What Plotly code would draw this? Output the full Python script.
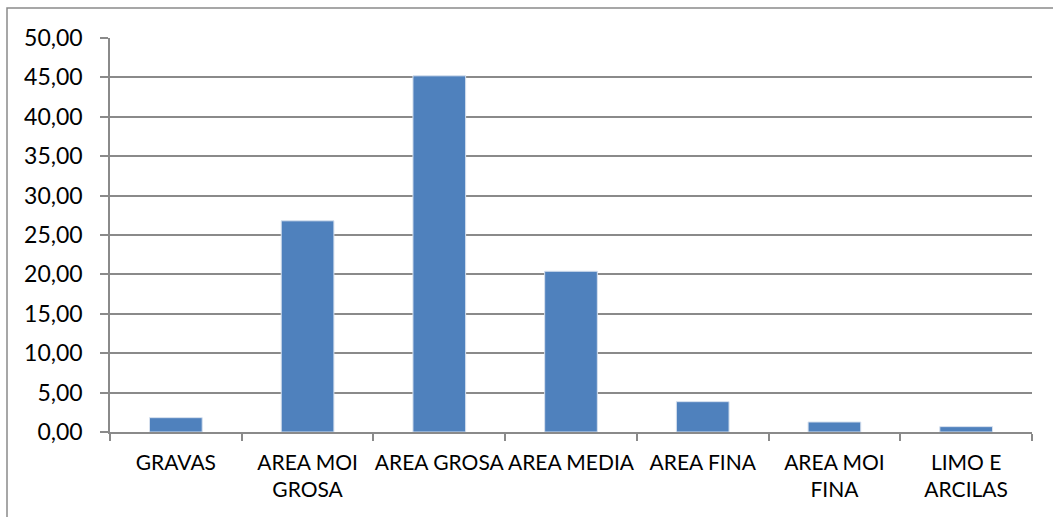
import plotly.graph_objects as go

# Particle-size fractions (% of sample)
categories = ["GRAVAS", "AREA MOI<br>GROSA", "AREA GROSA", "AREA MEDIA",
              "AREA FINA", "AREA MOI<br>FINA", "LIMO E<br>ARCILAS"]
percentages = [1.82, 26.80, 45.20, 20.40, 3.85, 1.27, 0.68]
y_ticks = [0, 5, 10, 15, 20, 25, 30, 35, 40, 45, 50]

W, H = 1053, 517
L, R, T, B = 110, 21, 38, 85
pw, ph = W - L - R, H - T - B

grid_grey = "#8a8a8a"
font_family = "Lato, 'Liberation Sans', sans-serif"

fig = go.Figure(
    go.Bar(
        x=categories,
        y=percentages,
        marker=dict(color="#4F81BD", line=dict(color="#D6E0EE", width=1)),
        width=0.4,
    )
)

fig.update_layout(
    width=W,
    height=H,
    margin=dict(l=L, r=R, t=T, b=B),
    paper_bgcolor="white",
    plot_bgcolor="white",
    separators=",.",
    showlegend=False,
    font=dict(family=font_family, size=20, color="#000000"),
    xaxis=dict(
        type="category",
        tickson="boundaries",
        ticks="outside",
        ticklen=7,
        tickwidth=1.5,
        tickcolor=grid_grey,
        showline=True,
        linecolor=grid_grey,
        linewidth=1.5,
        showgrid=False,
        tickfont=dict(family=font_family, size=21),
        ticklabelstandoff=11,
        tickangle=0,
    ),
    yaxis=dict(
        range=[0, 50],
        tickvals=y_ticks,
        tickformat=".2f",
        ticks="outside",
        ticklen=8,
        tickwidth=1.5,
        tickcolor=grid_grey,
        showline=True,
        linecolor=grid_grey,
        linewidth=1.5,
        showgrid=True,
        gridcolor=grid_grey,
        gridwidth=1.5,
        zeroline=False,
        tickfont=dict(family=font_family, size=23),
        ticklabelstandoff=13,
    ),
    shapes=[
        dict(
            type="rect",
            xref="paper",
            yref="paper",
            x0=(7 - L) / pw,
            x1=1 + (R + 20) / pw,
            y0=-(B + 20) / ph,
            y1=1 + (T - 8) / ph,
            line=dict(color=grid_grey, width=1.5),
            fillcolor="rgba(0,0,0,0)",
            layer="below",
        )
    ],
)

fig.write_html("out.html")
